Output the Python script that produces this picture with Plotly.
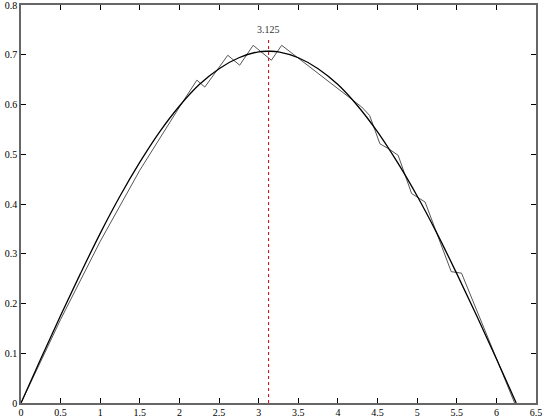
import plotly.graph_objects as go

# Smooth curve
smooth_x = [0, 0.25, 0.5, 0.75, 1.0, 1.25, 1.5, 1.75, 2.0, 2.25, 2.5, 2.75, 3.0, 3.125,
            3.25, 3.5, 3.75, 4.0, 4.25, 4.5, 4.75, 5.0, 5.25, 5.5, 5.75, 6.0, 6.25]
smooth_y = [0, 0.089, 0.176, 0.260, 0.341, 0.416, 0.484, 0.545, 0.597, 0.640, 0.672, 0.694, 0.706, 0.707,
            0.706, 0.694, 0.672, 0.640, 0.597, 0.545, 0.484, 0.416, 0.341, 0.260, 0.176, 0.089, 0]

# Noisy series
noisy_x = [0, 0.5, 1.0, 1.5, 2.0, 2.22, 2.32, 2.61, 2.76, 2.93, 3.16, 3.29,
           4.30, 4.40, 4.53, 4.64, 4.76, 4.93, 5.03, 5.10, 5.43, 5.56, 6.23]
noisy_y = [0, 0.168, 0.325, 0.468, 0.595, 0.649, 0.635, 0.699, 0.679, 0.719, 0.689, 0.719,
           0.595, 0.578, 0.521, 0.511, 0.498, 0.421, 0.411, 0.404, 0.264, 0.261, 0]

marker_x = 3.125
marker_label = "3.125"
marker_top = 0.735

x_ticks = [0, 0.5, 1, 1.5, 2, 2.5, 3, 3.5, 4, 4.5, 5, 5.5, 6, 6.5]
y_ticks = [0, 0.1, 0.2, 0.3, 0.4, 0.5, 0.6, 0.7, 0.8]

fig = go.Figure()
fig.add_trace(go.Scatter(x=noisy_x, y=noisy_y, mode="lines",
                         line=dict(color="#555555", width=1), showlegend=False))
fig.add_trace(go.Scatter(x=smooth_x, y=smooth_y, mode="lines", line_shape="spline",
                         line=dict(color="black", width=1.3), showlegend=False))

fig.add_shape(type="line", x0=marker_x, x1=marker_x, y0=0, y1=marker_top,
              xref="x", yref="y", line=dict(color="#cc0000", width=1, dash="dot"))
fig.add_annotation(x=marker_x, y=marker_top, text=marker_label, showarrow=False,
                   yanchor="bottom", font=dict(family="Liberation Serif", size=10, color="#333333"))

axis_common = dict(showgrid=False, zeroline=False, ticks="inside", ticklen=5,
                   tickcolor="black", showline=True, linecolor="#666666", linewidth=1.5,
                   mirror="ticks", automargin=False, ticklabeloverflow="allow",
                   tickfont=dict(family="Liberation Serif", size=10, color="black"))

fig.update_xaxes(range=[0, 6.5], tickvals=x_ticks, ticktext=[f"{v:g}" for v in x_ticks],
                 ticklabelstandoff=-1, **axis_common)
fig.update_yaxes(range=[0, 0.8], tickvals=y_ticks, ticktext=[f"{v:g}" for v in y_ticks], **axis_common)

fig.update_layout(width=548, height=417, margin=dict(l=21, r=12, t=5, b=14),
                  plot_bgcolor="white", paper_bgcolor="white")

fig.write_html("out.html", config={"displayModeBar": False},
               post_script="document.body.style.margin='0px';document.body.style.overflow='hidden';")
